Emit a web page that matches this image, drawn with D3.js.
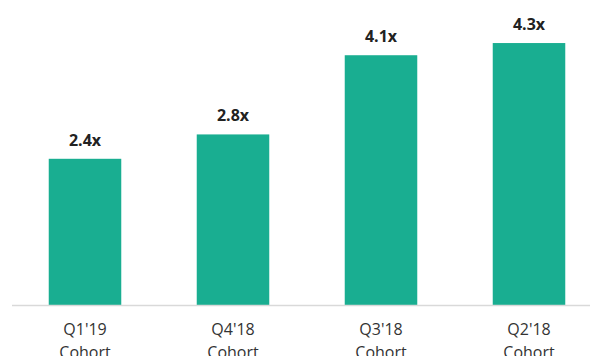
<!DOCTYPE html>
<html>
<head>
<meta charset="utf-8">
<script src="https://cdn.jsdelivr.net/npm/d3@7"></script>
<style>
  html, body { margin: 0; padding: 0; background: #fff; }
  svg { display: block; }
</style>
</head>
<body>
<svg id="chart" width="590" height="356"></svg>
<script>
const categories = ["Q1'19", "Q4'18", "Q3'18", "Q2'18"];
const categorySub = ["Cohort", "Cohort", "Cohort", "Cohort"];
const values = [2.4, 2.8, 4.1, 4.3];
const valueLabels = ["2.4x", "2.8x", "4.1x", "4.3x"];

const svg = d3.select("#chart");
const baseY = 305;

const x = d3.scaleBand()
  .domain(categories)
  .range([11, 603])
  .paddingInner(0.51)
  .paddingOuter(0.255);

const y = d3.scaleLinear()
  .domain([0, 5])
  .range([baseY, 0.4]);

// bars
svg.selectAll("rect.bar")
  .data(values)
  .enter().append("rect")
  .attr("class", "bar")
  .attr("x", (d, i) => x(categories[i]))
  .attr("width", x.bandwidth())
  .attr("y", d => y(d))
  .attr("height", d => y(0) - y(d))
  .attr("fill", "#19ae91");

// baseline
svg.append("line")
  .attr("x1", 12).attr("x2", 590)
  .attr("y1", baseY + 0.5).attr("y2", baseY + 0.5)
  .attr("stroke", "#d9d9d9")
  .attr("stroke-width", 1.5);

// value labels
svg.selectAll("text.val")
  .data(values)
  .enter().append("text")
  .attr("class", "val")
  .attr("x", (d, i) => x(categories[i]) + x.bandwidth() / 2)
  .attr("y", d => y(d) - 13)
  .attr("text-anchor", "middle")
  .attr("font-family", "'Open Sans', sans-serif")
  .attr("font-weight", "bold")
  .attr("font-size", 16)
  .attr("fill", "#222")
  .text((d, i) => valueLabels[i]);

// category labels
const cat = svg.selectAll("text.cat")
  .data(categories)
  .enter().append("text")
  .attr("class", "cat")
  .attr("text-anchor", "middle")
  .attr("font-family", "'Open Sans', sans-serif")
  .attr("font-size", 16)
  .attr("fill", "#333");

cat.append("tspan")
  .attr("x", d => x(d) + x.bandwidth() / 2)
  .attr("y", 335)
  .text(d => d);
cat.append("tspan")
  .attr("x", d => x(d) + x.bandwidth() / 2)
  .attr("y", 358)
  .text((d, i) => categorySub[i]);
</script>
</body>
</html>
